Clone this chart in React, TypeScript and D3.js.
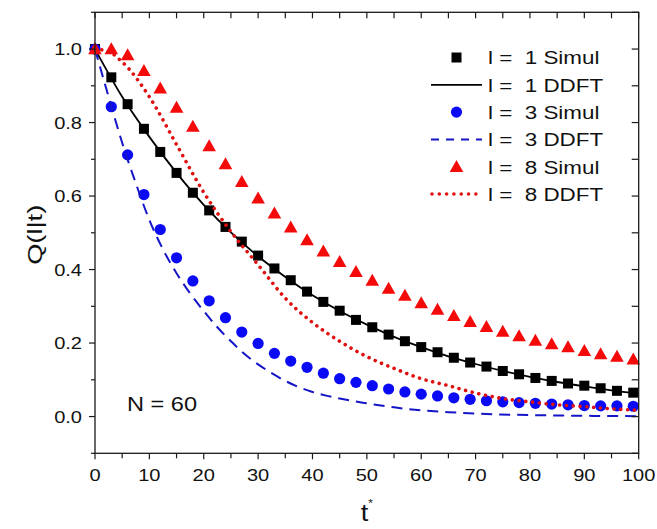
import React from 'react';
import * as d3 from 'd3';

const T_SIM = [0, 3, 6, 9, 12, 15, 18, 21, 24, 27, 30, 33, 36, 39, 42, 45, 48, 51, 54, 57, 60, 63, 66, 69, 72, 75, 78, 81, 84, 87, 90, 93, 96, 99];
const SIM_L1 = [1.0, 0.923, 0.85, 0.783, 0.72, 0.663, 0.609, 0.561, 0.516, 0.476, 0.438, 0.403, 0.371, 0.34, 0.312, 0.288, 0.263, 0.243, 0.223, 0.205, 0.189, 0.175, 0.16, 0.147, 0.136, 0.124, 0.115, 0.105, 0.097, 0.09, 0.084, 0.077, 0.07, 0.065];
const SIM_L3 = [1.0, 0.843, 0.712, 0.604, 0.509, 0.432, 0.369, 0.315, 0.269, 0.23, 0.199, 0.172, 0.151, 0.134, 0.118, 0.103, 0.093, 0.084, 0.075, 0.067, 0.061, 0.056, 0.051, 0.047, 0.043, 0.04, 0.038, 0.036, 0.034, 0.032, 0.03, 0.029, 0.029, 0.028];
const SIM_L8 = [1.0, 1.0, 0.984, 0.941, 0.893, 0.841, 0.789, 0.736, 0.687, 0.639, 0.594, 0.553, 0.515, 0.48, 0.45, 0.421, 0.394, 0.37, 0.348, 0.329, 0.309, 0.291, 0.274, 0.258, 0.244, 0.231, 0.219, 0.207, 0.197, 0.189, 0.179, 0.17, 0.163, 0.156];

const T_DDFT = [0, 5, 10, 15, 20, 25, 30, 35, 40, 45, 50, 55, 60, 65, 70, 75, 80, 85, 90, 95, 100];
const DDFT_L1 = [1.0, 0.87, 0.761, 0.663, 0.576, 0.501, 0.436, 0.38, 0.33, 0.287, 0.25, 0.217, 0.189, 0.164, 0.143, 0.124, 0.108, 0.094, 0.082, 0.071, 0.062];
const T_DDFT_L3 = [0, 2.5, 5, 7.5, 10, 12.5, 15, 17.5, 20, 22.5, 25, 27.5, 30, 32.5, 35, 37.5, 40, 42.5, 45, 47.5, 50, 55, 60, 65, 70, 80, 90, 100];
const DDFT_L3 = [1.0, 0.87, 0.745, 0.635, 0.535, 0.455, 0.39, 0.335, 0.287, 0.243, 0.205, 0.17, 0.142, 0.118, 0.097, 0.08, 0.067, 0.057, 0.049, 0.042, 0.036, 0.025, 0.017, 0.012, 0.008, 0.004, 0.002, 0.001];
const T_DDFT_L8 = [0, 2.5, 5, 10, 15, 20, 25, 30, 35, 40, 45, 50, 55, 60, 65, 70, 75, 80, 85, 90, 95, 100];
const DDFT_L8 = [1.0, 0.993, 0.965, 0.87, 0.74, 0.61, 0.503, 0.413, 0.322, 0.256, 0.205, 0.163, 0.131, 0.103, 0.084, 0.064, 0.049, 0.04, 0.032, 0.027, 0.021, 0.017];

const X_TICKS = [0, 10, 20, 30, 40, 50, 60, 70, 80, 90, 100];
const X_MINOR = [5, 15, 25, 35, 45, 55, 65, 75, 85, 95];
const Y_TICKS = [0.0, 0.2, 0.4, 0.6, 0.8, 1.0];
const Y_MINOR = [-0.1, 0.1, 0.3, 0.5, 0.7, 0.9, 1.1];
const LEGEND_LABELS = ['l =  1 Simul', 'l =  1 DDFT', 'l =  3 Simul', 'l =  3 DDFT', 'l =  8 Simul', 'l =  8 DDFT'];

const W = 657, H = 529;
const L = 95, R = 638.7, T = 12.3, B = 453.3;
const FONT = 'Arial, "Liberation Sans", sans-serif';
const SX = 1.18;

const BLACK = '#000000';
const BLUE = '#0a0af5';
const BLUE_LINE = '#1515c8';
const RED = '#f50a0a';
const RED_LINE = '#e01010';

export default function App() {
  const x = d3.scaleLinear().domain([0, 100]).range([L, R]);
  const y = d3.scaleLinear().domain([-0.1, 1.1]).range([B, T]);
  const line = d3.line<[number, number]>().x(d => x(d[0])).y(d => y(d[1])).curve(d3.curveMonotoneX);
  const zip = (ts: number[], vs: number[]) => ts.map((t, i) => [t, vs[i]] as [number, number]);

  const sq = (cx: number, cy: number, k: string) => <rect key={k} x={cx - 5} y={cy - 5} width={10} height={10} fill={BLACK} />;
  const ci = (cx: number, cy: number, k: string) => <circle key={k} cx={cx} cy={cy} r={5.6} fill={BLUE} />;
  const tri = (cx: number, cy: number, k: string) => (
    <path key={k} d={`M${cx},${cy - 6.8} L${cx + 6.8},${cy + 5.2} L${cx - 6.8},${cy + 5.2} Z`} fill={RED} />
  );

  const legY0 = 57.5, legDy = 27.3;
  const legSymX = 456.5, legL0 = 431, legL1 = 482, legTextX = 488;

  return (
    <svg width={W} height={H} style={{ position: 'absolute', left: 0, top: 0, background: '#fff' }} fontFamily={FONT}>
      <rect x={0} y={0} width={W} height={H} fill="#fff" />
      <g>
        {T_SIM.map((t, i) => sq(x(t), y(SIM_L1[i]), 's1' + i))}
        <path d={line(zip(T_DDFT, DDFT_L1)) || ''} fill="none" stroke={BLACK} strokeWidth={1.8} />
        {T_SIM.map((t, i) => ci(x(t), y(SIM_L3[i]), 's3' + i))}
        <path d={line(zip(T_DDFT_L3, DDFT_L3)) || ''} fill="none" stroke={BLUE_LINE} strokeWidth={2} strokeDasharray="11,7" />
        {T_SIM.map((t, i) => tri(x(t), y(SIM_L8[i]), 's8' + i))}
        <path d={line(zip(T_DDFT_L8, DDFT_L8)) || ''} fill="none" stroke={RED_LINE} strokeWidth={3.6} strokeDasharray="0.01,6.8" strokeLinecap="round" />
      </g>
      <rect x={L} y={T} width={R - L} height={B - T} fill="none" stroke="#1a1a1a" strokeWidth={1.3} />
      {X_TICKS.map(v => <line key={'xt' + v} x1={x(v)} x2={x(v)} y1={B} y2={B + 6} stroke="#1a1a1a" strokeWidth={1.2} />)}
      {X_MINOR.map(v => <line key={'xm' + v} x1={x(v)} x2={x(v)} y1={B} y2={B + 5} stroke="#1a1a1a" strokeWidth={1.2} />)}
      {[...X_TICKS, ...X_MINOR].map(v => <line key={'xtt' + v} x1={x(v)} x2={x(v)} y1={T} y2={T + 6} stroke="#1a1a1a" strokeWidth={1.2} />)}
      {Y_TICKS.map(v => <line key={'yt' + v} x1={L - 6} x2={L} y1={y(v)} y2={y(v)} stroke="#1a1a1a" strokeWidth={1.2} />)}
      {Y_MINOR.map(v => <line key={'ym' + v} x1={L - 4} x2={L} y1={y(v)} y2={y(v)} stroke="#1a1a1a" strokeWidth={1.2} />)}
      {[...Y_TICKS, ...Y_MINOR].map(v => <line key={'yrt' + v} x1={R - 7} x2={R} y1={y(v)} y2={y(v)} stroke="#1a1a1a" strokeWidth={1.2} />)}
      {X_TICKS.map(v => (
        <text key={'xl' + v} transform={`translate(${x(v)},481) scale(${SX},1)`} textAnchor="middle" fontSize={17} fill="#111">{v}</text>
      ))}
      {Y_TICKS.map(v => (
        <text key={'yl' + v} transform={`translate(82,${y(v) + 6.1}) scale(${SX},1)`} textAnchor="end" fontSize={17} fill="#111">{v.toFixed(1)}</text>
      ))}
      <text transform={`translate(42,${(T + B) / 2 + 2}) rotate(-90) scale(1.3,1)`} textAnchor="middle" fontSize={21} fill="#111">Q(l|t)</text>
      <text transform={`translate(${(L + R) / 2},521) scale(${SX},1)`} textAnchor="middle" fontSize={23} fill="#111">
        t<tspan fontSize={10} dy={-14}>*</tspan>
      </text>
      <text transform={`translate(127,411) scale(1.15,1)`} fontSize={20.5} fill="#111">N = 60</text>
      {LEGEND_LABELS.map((lab, i) => {
        const cy = legY0 + i * legDy;
        let sym: React.ReactNode = null;
        if (i === 0) sym = sq(legSymX, cy, 'lg0');
        if (i === 1) sym = <line x1={legL0} x2={legL1} y1={cy} y2={cy} stroke={BLACK} strokeWidth={1.8} />;
        if (i === 2) sym = ci(legSymX, cy, 'lg2');
        if (i === 3) sym = <line x1={legL0} x2={legL1} y1={cy} y2={cy} stroke={BLUE_LINE} strokeWidth={2} strokeDasharray="8,7" />;
        if (i === 4) sym = tri(legSymX, cy, 'lg4');
        if (i === 5) sym = <line x1={legL0 + 1} x2={legL1} y1={cy} y2={cy} stroke={RED_LINE} strokeWidth={3.6} strokeDasharray="0.01,7.3" strokeLinecap="round" />;
        return (
          <g key={'leg' + i}>
            {sym}
            <text transform={`translate(${legTextX},${cy + 6.8}) scale(${SX},1)`} fontSize={19} fill="#111" style={{ whiteSpace: 'pre' }}>{lab}</text>
          </g>
        );
      })}
    </svg>
  );
}
